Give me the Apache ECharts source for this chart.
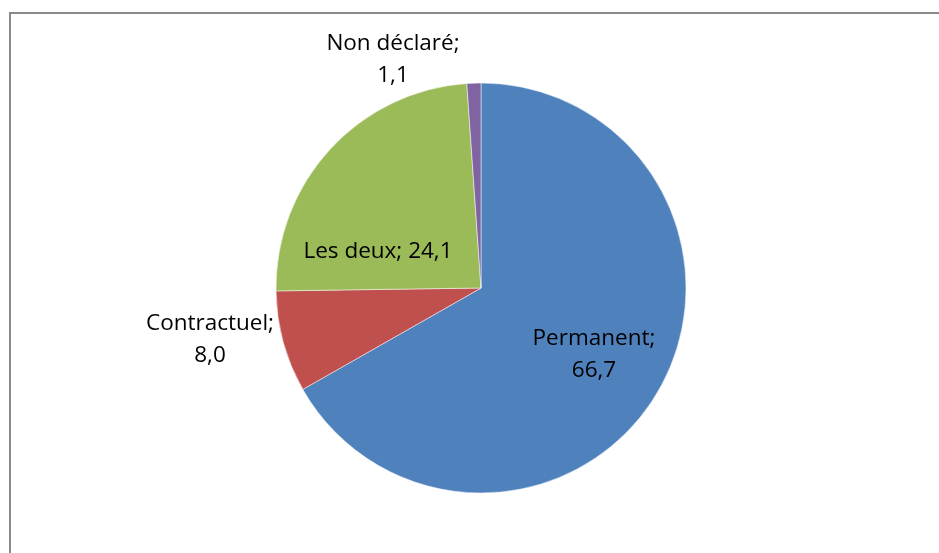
<!DOCTYPE html>
<html>
<head>
<meta charset="utf-8">
<script src="https://cdn.jsdelivr.net/npm/echarts@6/dist/echarts.min.js"></script>
<style>
  html, body { margin: 0; padding: 0; background: #fff; }
  #chart { width: 939px; height: 553px; }
</style>
</head>
<body>
<div id="chart"></div>
<script>
var categories = ['Permanent', 'Contractuel', 'Les deux', 'Non déclaré'];
var values = [66.7, 8.0, 24.1, 1.1];
var colors = ['#4F81BD', '#C0504D', '#9BBB59', '#8064A2'];
// where each label sits (centre of text)
var labelPos = [[594, 355], [210, 340], [378, 252], [393, 60]];

var chart = echarts.init(document.getElementById('chart'));

function fmt(v) {
  return v.toFixed(1).replace('.', ',');
}

var pieData = categories.map(function (name, i) {
  return { name: name, value: values[i], itemStyle: { color: colors[i] } };
});

var option = {
  animation: false,
  graphic: [{
    type: 'rect',
    shape: { x: 10, y: 13, width: 940, height: 560 },
    style: { fill: 'none', stroke: '#8a8a8a', lineWidth: 2 }
  }],
  series: [{
    type: 'pie',
    center: [481, 288],
    radius: 205,
    startAngle: 90,
    clockwise: true,
    itemStyle: { borderColor: '#ffffff', borderWidth: 0.5 },
    label: {
      show: true,
      position: 'inside',
      fontFamily: 'Open Sans',
      fontSize: 22.5,
      lineHeight: 32,
      color: '#000',
      formatter: function (p) {
        if (p.dataIndex === 2) return p.name + '; ' + fmt(p.value);
        return p.name + ';\n' + fmt(p.value);
      }
    },
    labelLine: { show: false },
    labelLayout: function (p) {
      var pos = labelPos[p.dataIndex];
      return { x: pos[0], y: pos[1], align: 'center', verticalAlign: 'middle' };
    },
    data: pieData
  }]
};
chart.setOption(option);
</script>
</body>
</html>
